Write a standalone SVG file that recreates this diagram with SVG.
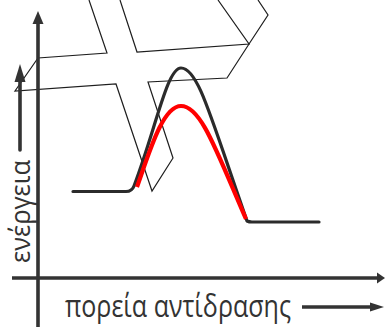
<svg xmlns="http://www.w3.org/2000/svg" width="385" height="327" viewBox="0 0 385 327">
<defs>
<style>
.thin{fill:none;stroke:#1e1e1e;stroke-width:1.2;stroke-linejoin:miter}
.axis{fill:none;stroke:#333;stroke-width:3.6}
.head{fill:#333;stroke:none}
.blk{fill:none;stroke:#2b2b2b;stroke-width:3.2;stroke-linecap:round;stroke-linejoin:round}
.red{fill:none;stroke:#ff0000;stroke-width:4.2;stroke-linecap:butt}
.lbl{font-family:"Open Sans","DejaVu Sans",sans-serif;font-size:31px;fill:#333}
</style>
</defs>
<g id="outline">
<polyline class="thin" points="89,0 107,53 38,58 15,91 116,84 152,191 173,158 148,82 227,78 249,44 268,15 258,0"/>
<polyline class="thin" points="120,0 137,52 249,44 218,0"/>
</g>
<g id="curves">
<path class="blk" d="M73,191.5 L126,191.5 Q132,191.5 134,186 C 156,128 167,68 181,68 C 198,68 210,115 247,221 Q 249,222 252,222 L319,222"/>
<path class="red" d="M137,187 C 150,150 163,106 181,106 C 201,106 216,150 246,219"/>
</g>
<g id="axes">
<line class="axis" x1="38" y1="327" x2="38" y2="22"/>
<polygon class="head" points="38,11 32.5,24 43.5,24"/>
<line class="axis" x1="12" y1="278" x2="378" y2="278"/>
<polygon class="head" points="385,278 377,272.5 377,283.5"/>
<line class="axis" x1="20" y1="150" x2="20" y2="80" stroke-width="4" stroke-linecap="round"/>
<polygon class="head" points="20,64 14.5,82 25.5,82"/>
<line class="axis" x1="302" y1="307" x2="372" y2="307" stroke-width="2.6"/>
<polygon class="head" points="384,307 370,302.5 370,311.5"/>
</g>
<g id="labels">
<text class="lbl" x="65" y="317" textLength="226" lengthAdjust="spacingAndGlyphs">πορεία αντίδρασης</text>
<text class="lbl" style="font-size:27px" transform="translate(30,263) rotate(-90)" x="0" y="0" textLength="103" lengthAdjust="spacingAndGlyphs">ενέργεια</text>
</g>
</svg>
